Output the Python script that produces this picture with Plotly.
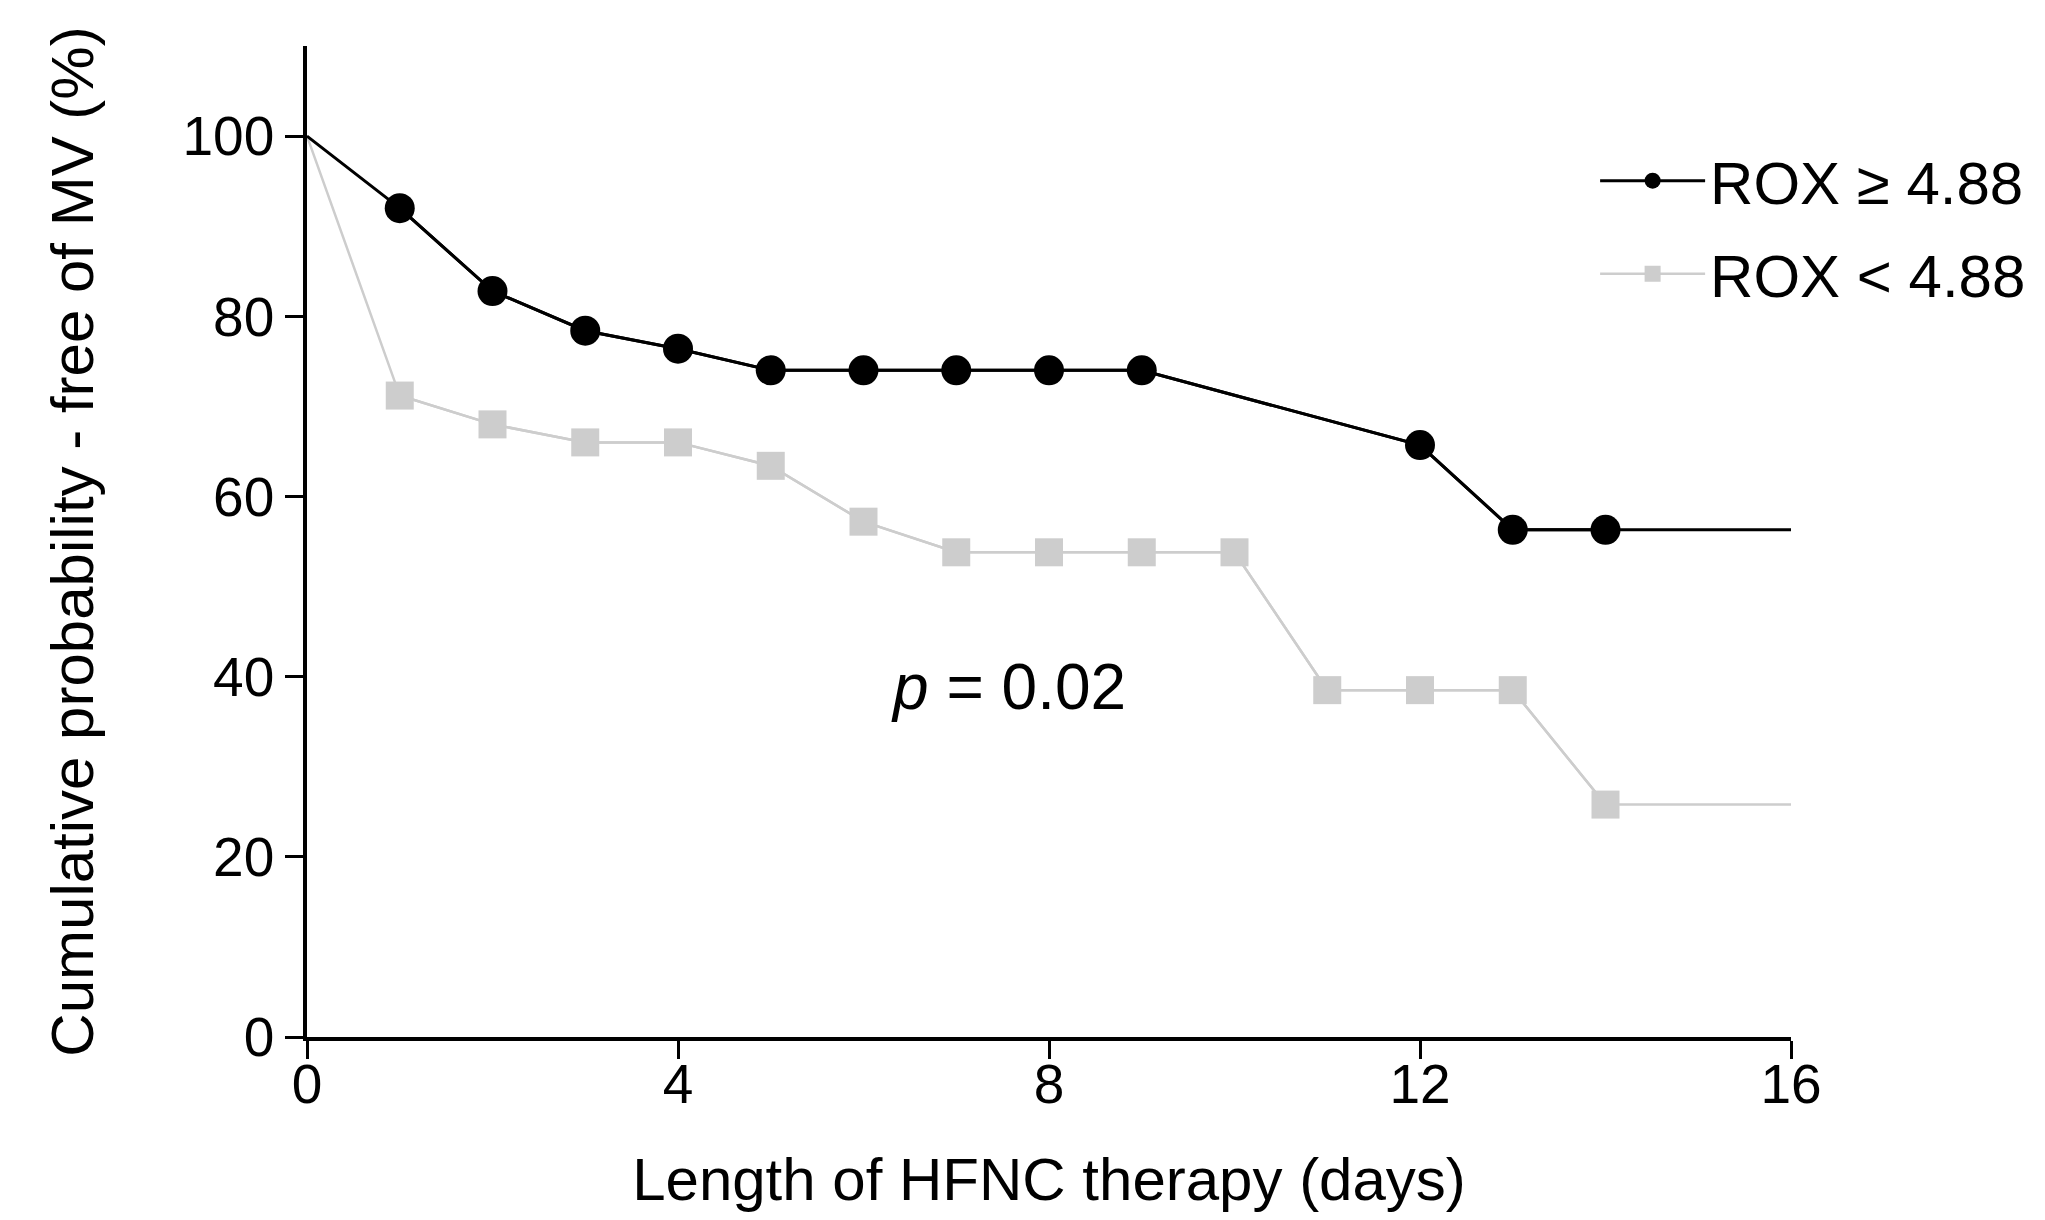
import plotly.graph_objects as go

# Days of HFNC therapy
days_high = [0, 1, 2, 3, 4, 5, 6, 7, 8, 9, 12, 13, 14, 16]
surv_high = [100, 92.0, 82.8, 78.4, 76.4, 74.0, 74.0, 74.0, 74.0, 74.0, 65.7, 56.3, 56.3, 56.3]

days_low = [0, 1, 2, 3, 4, 5, 6, 7, 8, 9, 10, 11, 12, 13, 14, 16]
surv_low = [100, 71.2, 68.0, 66.0, 66.0, 63.4, 57.2, 53.8, 53.8, 53.8, 53.8, 38.5, 38.5, 38.5, 25.8, 25.8]

name_high = "ROX \u2265 4.88"
name_low = "ROX < 4.88"

x_ticks = [0, 4, 8, 12, 16]
y_ticks = [0, 20, 40, 60, 80, 100]

FONT = "Arial, 'Liberation Sans', Helvetica, sans-serif"
GRAY = "#cdcdcd"

fig = go.Figure()

# Gray series: full line (incl. start and end), then markers at event points
fig.add_trace(go.Scatter(x=days_low, y=surv_low, mode="lines",
                         line=dict(color=GRAY, width=2.5), showlegend=False,
                         legendgroup="low", hoverinfo="skip"))
fig.add_trace(go.Scatter(x=days_low[1:-1], y=surv_low[1:-1], mode="lines+markers",
                         name=name_low, legendgroup="low", legendrank=2,
                         line=dict(color=GRAY, width=2.5),
                         marker=dict(symbol="square", size=28, color=GRAY)))

# Black series
fig.add_trace(go.Scatter(x=days_high, y=surv_high, mode="lines",
                         line=dict(color="black", width=3), showlegend=False,
                         legendgroup="high", hoverinfo="skip"))
fig.add_trace(go.Scatter(x=days_high[1:-1], y=surv_high[1:-1], mode="lines+markers",
                         name=name_high, legendgroup="high", legendrank=1,
                         line=dict(color="black", width=3),
                         marker=dict(symbol="circle", size=30, color="black")))

fig.add_annotation(x=7.56, y=38.8, xref="x", yref="y", text="<i>p</i> = 0.02",
                   showarrow=False, font=dict(family=FONT, size=64, color="black"))

fig.update_layout(
    width=2045, height=1220,
    paper_bgcolor="white", plot_bgcolor="white",
    margin=dict(l=299, r=262, t=38, b=191, autoexpand=False),
    font=dict(family=FONT, color="black"),
    legend=dict(x=0.868, xanchor="left", y=0.91, yanchor="top",
                traceorder="grouped", tracegroupgap=12,
                font=dict(family=FONT, size=60, color="black"),
                itemwidth=105, bgcolor="rgba(0,0,0,0)"),
    showlegend=True,
)

fig.update_xaxes(range=[0, 16], tickvals=x_ticks, ticktext=[str(v) for v in x_ticks],
                 showline=True, linecolor="black", linewidth=4,
                 ticks="outside", ticklen=18, tickwidth=3, tickcolor="black",
                 ticklabelstandoff=-22,
                 showgrid=False, zeroline=False,
                 tickfont=dict(family=FONT, size=55, color="black"),
                 title=dict(text="Length of HFNC therapy (days)", standoff=45,
                            font=dict(family=FONT, size=60, color="black")))
fig.update_yaxes(range=[0, 110], tickvals=y_ticks, ticktext=[str(v) for v in y_ticks],
                 showline=True, linecolor="black", linewidth=3.5,
                 ticks="outside", ticklen=18, tickwidth=3, tickcolor="black",
                 showgrid=False, zeroline=False,
                 tickfont=dict(family=FONT, size=55, color="black"),
                 title=dict(text="Cumulative probability - free of MV (%)", standoff=70,
                            font=dict(family=FONT, size=60, color="black")))

fig.write_html("out.html")
